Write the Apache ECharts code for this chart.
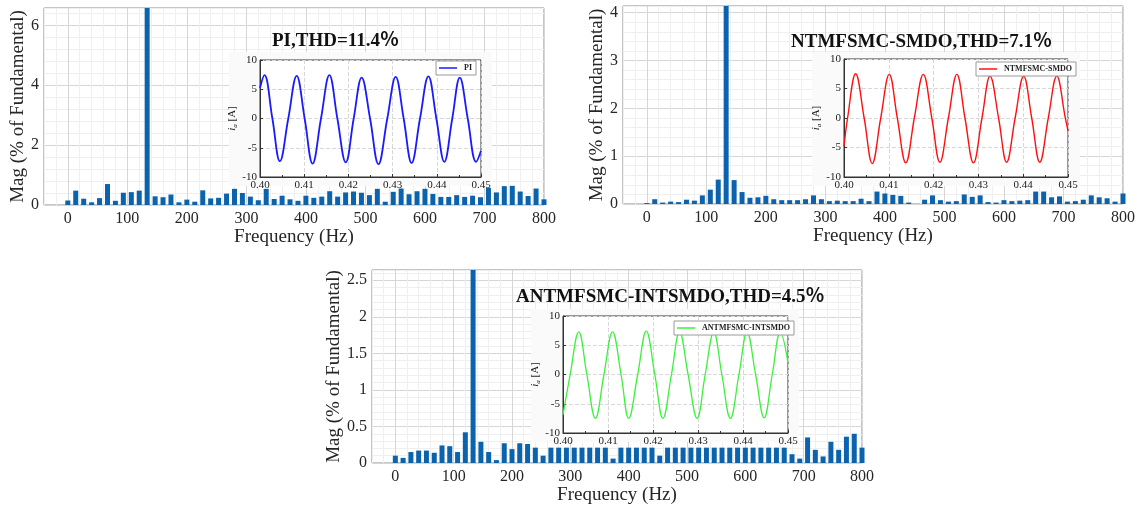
<!DOCTYPE html>
<html>
<head>
<meta charset="utf-8">
<script src="https://cdn.jsdelivr.net/npm/echarts@6/dist/echarts.min.js"></script>
<style>
html, body { margin: 0; padding: 0; background: #fff; }
#main { width: 1138px; height: 508px; }
</style>
</head>
<body>
<div id="main"></div>
<script>
// harmonic frequencies (Hz), one bar each
var harmonicFreq = [0, 13.3, 26.7, 40, 53.3, 66.7, 80, 93.3, 106.7, 120, 133.3, 146.7, 160, 173.3, 186.7,
    200, 213.3, 226.7, 240, 253.3, 266.7, 280, 293.3, 306.7, 320, 333.3, 346.7, 360, 373.3, 386.7,
    400, 413.3, 426.7, 440, 453.3, 466.7, 480, 493.3, 506.7, 520, 533.3, 546.7, 560, 573.3, 586.7,
    600, 613.3, 626.7, 640, 653.3, 666.7, 680, 693.3, 706.7, 720, 733.3, 746.7, 760, 773.3, 786.7, 800];

// Mag (% of fundamental)
var magPI = [0.15, 0.48, 0.21, 0.09, 0.23, 0.70, 0.14, 0.41, 0.43, 0.48, 100, 0.29, 0.26, 0.35, 0.09,
    0.18, 0.11, 0.49, 0.22, 0.24, 0.38, 0.54, 0.40, 0.28, 0.16, 0.54, 0.20, 0.31, 0.19, 0.14,
    0.31, 0.24, 0.28, 0.46, 0.28, 0.42, 0.45, 0.41, 0.33, 0.54, 0.11, 0.44, 0.55, 0.36, 0.46,
    0.54, 0.37, 0.27, 0.27, 0.33, 0.27, 0.31, 0.26, 0.57, 0.42, 0.63, 0.64, 0.45, 0.30, 0.55, 0.19];
var magNTM = [0.02, 0.10, 0.03, 0.05, 0.04, 0.09, 0.07, 0.18, 0.30, 0.51, 100, 0.50, 0.25, 0.13, 0.14,
    0.17, 0.10, 0.08, 0.08, 0.08, 0.10, 0.18, 0.10, 0.06, 0.07, 0.06, 0.06, 0.11, 0.06, 0.26,
    0.22, 0.19, 0.17, 0.03, 0, 0.09, 0.18, 0.08, 0.05, 0.06, 0.20, 0.15, 0.18, 0.04, 0.03,
    0.08, 0.06, 0.07, 0.08, 0.26, 0.26, 0.14, 0.16, 0.05, 0.06, 0.09, 0.18, 0.14, 0.12, 0.05, 0.22];
var magANT = [0.10, 0.07, 0.15, 0.17, 0.17, 0.14, 0.24, 0.23, 0.15, 0.42, 100, 0.29, 0.15, 0.04, 0.27,
    0.19, 0.27, 0.26, 0.21, 0.10, 0.21, 0.21, 0.21, 0.21, 0.21, 0.21, 0.21, 0.21, 0.06, 0.21,
    0.21, 0.21, 0.21, 0.21, 0.10, 0.21, 0.21, 0.21, 0.21, 0.21, 0.21, 0.21, 0.21, 0.21, 0.21,
    0.21, 0.21, 0.21, 0.21, 0.21, 0.21, 0.12, 0.06, 0.35, 0.18, 0.09, 0.29, 0.18, 0.36, 0.40, 0.21];

// inset waveforms: peaks, troughs and zero crossings
var timePI = [0.4000, 0.4010, 0.4028, 0.4045, 0.4064, 0.4083, 0.4101, 0.4119, 0.4138, 0.4157,
    0.4175, 0.4194, 0.4212, 0.4230, 0.4249, 0.4268, 0.4288, 0.4307, 0.4325, 0.4343,
    0.4362, 0.4381, 0.4399, 0.4417, 0.4435, 0.4452, 0.4470, 0.4489, 0.4500];
var curPI = [5.2, 7.4, 0, -7.3, 0, 7.3, 0, -7.7, 0, 7.4,
    0, -7.5, 0, 7.0, 0, -7.8, 0, 7.1, 0, -7.6,
    0, 7.2, 0, -7.4, 0, 7.0, 0, -7.4, -5.5];
var timeNTM = [0.4000, 0.4008, 0.4026, 0.4045, 0.4063, 0.4082, 0.4101, 0.4119, 0.4138, 0.4157,
    0.4177, 0.4196, 0.4214, 0.4233, 0.4252, 0.4270, 0.4289, 0.4308, 0.4326, 0.4345,
    0.4363, 0.4382, 0.4401, 0.4419, 0.4437, 0.4456, 0.4475, 0.4494, 0.4500];
var curNTM = [-4.8, 0, 7.5, 0, -7.7, 0, 7.4, 0, -7.6, 0,
    7.4, 0, -7.5, 0, 7.4, 0, -7.6, 0, 7.1, 0,
    -7.5, 0, 7.1, 0, -7.5, 0, 7.1, 0, -2.2];
var timeANT = [0.4000, 0.4016, 0.4035, 0.4053, 0.4072, 0.4091, 0.4110, 0.4129, 0.4146, 0.4166,
    0.4185, 0.4204, 0.4222, 0.4241, 0.4259, 0.4278, 0.4298, 0.4316, 0.4335, 0.4353,
    0.4372, 0.4391, 0.4409, 0.4428, 0.4447, 0.4465, 0.4483, 0.4500];
var curANT = [-6.9, 0, 7.3, 0, -7.5, 0, 7.3, 0, -7.5, 0,
    7.4, 0, -7.5, 0, 7.3, 0, -7.5, 0, 7.2, 0,
    -7.5, 0, 7.2, 0, -7.4, 0, 7.2, 2.0];

var serif = "'Liberation Serif', 'Times New Roman', serif";
var barColor = '#0b63ad';
var minorGrid = '#efefef', majorGrid = '#d6d6d6';

function pairs(xs, ys) {
    return xs.map(function (x, i) { return [x, ys[i]]; });
}

function freqAxis(grid, gap) {
    return {
        type: 'value', gridIndex: grid, min: -40, max: 800, interval: 20,
        axisLine: { show: false }, axisTick: { show: false },
        axisLabel: {
            fontFamily: serif, fontSize: 16, color: '#262626', margin: 6,
            formatter: function (v) { return (v >= 0 && v % 100 === 0) ? String(v) : ''; }
        },
        splitLine: { show: true, lineStyle: { color: [minorGrid, minorGrid, majorGrid, minorGrid, minorGrid] } },
        name: 'Frequency (Hz)', nameLocation: 'middle', nameGap: gap,
        nameTextStyle: { fontFamily: serif, fontSize: 19, color: '#262626' }
    };
}

function magAxis(grid, max, step, labelStep, gap) {
    var n = Math.round(labelStep / step);
    var colors = [majorGrid];
    for (var i = 1; i < n; i++) colors.push(minorGrid);
    return {
        type: 'value', gridIndex: grid, min: 0, max: max, interval: step,
        axisLine: { show: false }, axisTick: { show: false },
        axisLabel: {
            fontFamily: serif, fontSize: 16, color: '#262626', margin: 5,
            formatter: function (v) {
                var r = v / labelStep;
                return Math.abs(r - Math.round(r)) < 1e-6 ? String(+v.toFixed(2)) : '';
            }
        },
        splitLine: { show: true, lineStyle: { color: colors } },
        name: 'Mag (% of Fundamental)', nameLocation: 'middle', nameGap: gap,
        nameTextStyle: { fontFamily: serif, fontSize: 19, color: '#262626' }
    };
}

function timeAxis(grid) {
    return {
        type: 'value', gridIndex: grid, min: 0.40, max: 0.45, interval: 0.01, z: 4,
        axisLine: { show: true, onZero: false, lineStyle: { color: '#333' } },
        axisTick: { show: true, inside: true, length: 3, lineStyle: { color: '#333' } },
        minorTick: { show: true, splitNumber: 2, length: 2, lineStyle: { color: '#333' } },
        axisLabel: {
            fontFamily: serif, fontSize: 11, color: '#222', margin: 3,
            formatter: function (v) { return v.toFixed(2); }
        },
        splitLine: { show: true, lineStyle: { color: '#d8d8d8', type: 'dashed' } }
    };
}

function currentAxis(grid) {
    return {
        type: 'value', gridIndex: grid, min: -10, max: 10, interval: 5, z: 4,
        axisLine: { show: true, onZero: false, lineStyle: { color: '#333' } },
        axisTick: { show: true, inside: true, length: 3, lineStyle: { color: '#333' } },
        axisLabel: { fontFamily: serif, fontSize: 11, color: '#222', margin: 3 },
        splitLine: { show: true, lineStyle: { color: '#d8d8d8', type: 'dashed' } },
        name: '{i|i}{s|a} [A]', nameLocation: 'middle', nameGap: 17,
        nameTextStyle: {
            fontFamily: serif, fontSize: 11, color: '#222',
            rich: {
                i: { fontFamily: serif, fontSize: 11, fontStyle: 'italic', color: '#222' },
                s: { fontFamily: serif, fontSize: 7, fontStyle: 'italic', color: '#222', padding: [5, 0, 0, 0] }
            }
        }
    };
}

function barSeries(name, axis, mags) {
    return {
        name: name, type: 'bar', xAxisIndex: axis, yAxisIndex: axis,
        data: pairs(harmonicFreq, mags), barWidth: 5, z: 2,
        itemStyle: { color: barColor }, clip: true
    };
}

function waveSeries(name, axis, ts, cs, color, width) {
    return {
        name: name, type: 'line', xAxisIndex: axis, yAxisIndex: axis,
        data: pairs(ts, cs), smooth: 0.4, symbol: 'none', z: 5,
        lineStyle: { color: color, width: width }, itemStyle: { color: color }
    };
}

function insetLegend(name, left, top) {
    return {
        data: [name], left: left, top: top, z: 6, icon: 'rect',
        backgroundColor: '#fff', borderColor: '#9a9a9a', borderWidth: 1, borderRadius: 0,
        padding: [3, 4, 3, 3], itemWidth: 18, itemHeight: 1.5, itemGap: 2,
        textStyle: { fontFamily: serif, fontSize: 8, fontWeight: 'bold', color: '#222', padding: [0, 0, 0, 2] }
    };
}

function titleAt(text, left, top) {
    return {
        text: text, left: left, top: top, padding: 0,
        textStyle: { fontFamily: serif + ", 'Noto Sans CJK SC'", fontSize: 19, fontWeight: 'bold', color: '#111' }
    };
}

var myChart = echarts.init(document.getElementById('main'));
myChart.setOption({
    animation: false,
    backgroundColor: '#fff',
    title: [
        titleAt('PI,THD=11.4％', 272, 32),
        titleAt('NTMFSMC-SMDO,THD=7.1％', 791, 33),
        titleAt('ANTMFSMC-INTSMDO,THD=4.5％', 516, 288)
    ],
    legend: [
        insetLegend('PI', 436, 61),
        insetLegend('NTMFSMC-SMDO', 976, 62),
        insetLegend('ANTMFSMC-INTSMDO', 674, 321)
    ],
    graphic: [
        { type: 'rect', z: 1, shape: { x: 229, y: 52, width: 263, height: 134 }, style: { fill: '#fafafa' } },
        { type: 'rect', z: 1, shape: { x: 812, y: 52, width: 268, height: 134 }, style: { fill: '#fafafa' } },
        { type: 'rect', z: 1, shape: { x: 531, y: 309, width: 268, height: 133 }, style: { fill: '#fafafa' } }
    ],
    grid: [
        { left: 44, top: 8, width: 500, height: 197, show: true, borderColor: '#8a8a8a', borderWidth: 1 },
        { left: 623, top: 6, width: 500, height: 198, show: true, borderColor: '#8a8a8a', borderWidth: 1 },
        { left: 372, top: 270, width: 490, height: 193, show: true, borderColor: '#8a8a8a', borderWidth: 1 },
        { left: 260, top: 60, width: 221, height: 117, show: true, z: 3, backgroundColor: '#fff', borderColor: '#333' },
        { left: 844, top: 59, width: 224, height: 118, show: true, z: 3, backgroundColor: '#fff', borderColor: '#333' },
        { left: 563, top: 316, width: 225, height: 117, show: true, z: 3, backgroundColor: '#fff', borderColor: '#333' }
    ],
    xAxis: [
        freqAxis(0, 22), freqAxis(1, 22), freqAxis(2, 22),
        timeAxis(3), timeAxis(4), timeAxis(5)
    ],
    yAxis: [
        magAxis(0, 6.58, 0.4, 2, 14),
        magAxis(1, 4.14, 0.2, 1, 15),
        magAxis(2, 2.64, 0.1, 0.5, 26),
        currentAxis(3), currentAxis(4), currentAxis(5)
    ],
    series: [
        barSeries('FFT PI', 0, magPI),
        barSeries('FFT NTMFSMC-SMDO', 1, magNTM),
        barSeries('FFT ANTMFSMC-INTSMDO', 2, magANT),
        waveSeries('PI', 3, timePI, curPI, '#1a1aff', 1.8),
        waveSeries('NTMFSMC-SMDO', 4, timeNTM, curNTM, '#ff1010', 1.4),
        waveSeries('ANTMFSMC-INTSMDO', 5, timeANT, curANT, '#3cf03c', 1.3)
    ]
});
</script>
</body>
</html>
